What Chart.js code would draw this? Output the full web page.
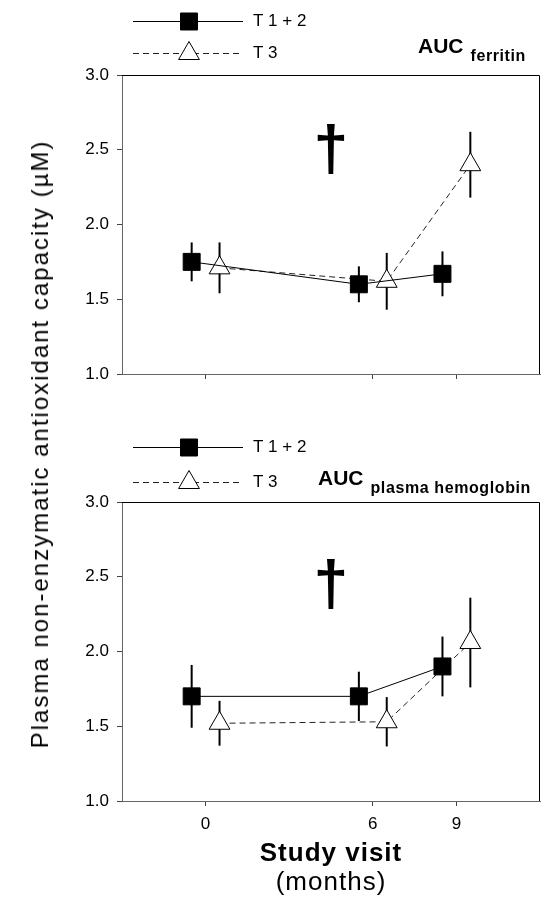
<!DOCTYPE html>
<html lang="en">
<head>
  <meta charset="UTF-8">
  <title>Plasma non-enzymatic antioxidant capacity</title>
  <script src="https://cdn.jsdelivr.net/npm/chart.js"></script>
  <style>
    * { box-sizing: border-box; }
    body {
      margin: 0;
      width: 544px;
      height: 902px;
      position: relative;
      overflow: hidden;
      background: #fff;
      font-family: 'Liberation Sans', Arial, sans-serif;
      color: #000;
    }
    .panel { position: absolute; left: 0; width: 544px; }
    #top { top: 0; height: 420px; }
    #bottom { top: 420px; height: 482px; }
    #ytitle {
      position: absolute;
      left: 40px;
      top: 444px;
      transform: translate(-50%, -50%) rotate(-90deg);
      white-space: nowrap;
      font-size: 24px;
      letter-spacing: 2px;
    }
    #xtitle {
      position: absolute;
      left: 331px;
      top: 838px;
      transform: translateX(-50%);
      text-align: center;
      white-space: nowrap;
    }
    #xtitle .main { font-weight: bold; font-size: 26px; line-height: 28px; letter-spacing: 1px; }
    #xtitle .unit { font-size: 26px; line-height: 30px; letter-spacing: 1px; }
  </style>
</head>
<body>
  <div class="panel" id="top"><canvas id="chartFerritin"></canvas></div>
  <div class="panel" id="bottom"><canvas id="chartHemo"></canvas></div>
  <div id="ytitle">Plasma non-enzymatic antioxidant capacity (µM)</div>
  <div id="xtitle"><div class="main">Study visit</div><div class="unit">(months)</div></div>
<script>
// study visits (months) and where each group is drawn on the x axis
const visits = [0, 6, 9];
const visitLabels = ['0', '6', '9'];
const t12X = [-0.5, 5.5, 8.5];
const t3X = [0.5, 6.5, 9.5];
const yTicks = [1.0, 1.5, 2.0, 2.5, 3.0];

// AUC ferritin panel
const ferritinT12 = [1.75, 1.60, 1.67];
const ferritinT12Err = [0.13, 0.12, 0.15];
const ferritinT3 = [1.71, 1.62, 2.40];
const ferritinT3Err = [0.17, 0.19, 0.22];

// AUC plasma hemoglobin panel
const hemoT12 = [1.70, 1.70, 1.90];
const hemoT12Err = [0.21, 0.165, 0.20];
const hemoT3 = [1.52, 1.53, 2.06];
const hemoT3Err = [0.15, 0.165, 0.30];

const FONT = "'Liberation Sans', Arial, sans-serif";

function drawMarker(ctx, style, x, y, r, fill) {
  ctx.save();
  ctx.lineWidth = 1;
  ctx.strokeStyle = '#000';
  ctx.fillStyle = fill;
  ctx.beginPath();
  if (style === 'rect') {
    const h = Math.SQRT1_2 * r;
    ctx.rect(x - h, y - h, 2 * h, 2 * h);
  } else {
    let a = 0;
    for (let k = 0; k < 3; k++) {
      const px = x + Math.sin(a) * r, py = y - Math.cos(a) * r;
      if (k === 0) ctx.moveTo(px, py); else ctx.lineTo(px, py);
      a += 2 * Math.PI / 3;
    }
    ctx.closePath();
  }
  ctx.fill();
  ctx.stroke();
  ctx.restore();
}

// error bars, drawn under the markers
const errorBars = {
  id: 'errorBars',
  beforeDatasetsDraw(chart) {
    const ctx = chart.ctx;
    const ys = chart.scales.y;
    ctx.save();
    ctx.strokeStyle = '#000';
    ctx.lineWidth = 2;
    chart.data.datasets.forEach((ds, i) => {
      const meta = chart.getDatasetMeta(i);
      meta.data.forEach((pt, j) => {
        const v = ds.data[j].y, e = ds.err[j];
        ctx.beginPath();
        ctx.moveTo(pt.x, ys.getPixelForValue(v + e));
        ctx.lineTo(pt.x, ys.getPixelForValue(v - e));
        ctx.stroke();
      });
    });
    ctx.restore();
  }
};

// frame, legend, panel title and dagger
const decor = {
  id: 'decor',
  afterDraw(chart, args, o) {
    const ctx = chart.ctx;
    const a = chart.chartArea;
    ctx.save();
    ctx.strokeStyle = '#000';
    ctx.lineWidth = 1;
    ctx.beginPath();
    ctx.moveTo(a.left, a.top + 0.5);
    ctx.lineTo(a.right - 0.5, a.top + 0.5);
    ctx.lineTo(a.right - 0.5, a.bottom);
    ctx.stroke();

    // legend
    chart.data.datasets.forEach((ds, i) => {
      const y = o.legendY[i] + 0.5;
      ctx.save();
      ctx.strokeStyle = ds.borderColor;
      ctx.lineWidth = 1;
      ctx.setLineDash(ds.borderDash || []);
      ctx.beginPath();
      ctx.moveTo(133, y);
      ctx.lineTo(243, y);
      ctx.stroke();
      ctx.restore();
      drawMarker(ctx, ds.pointStyle, 189, y, ds.pointRadius, ds.pointBackgroundColor);
      ctx.fillStyle = '#000';
      ctx.font = '17px ' + FONT;
      ctx.textBaseline = 'middle';
      ctx.textAlign = 'left';
      ctx.fillText(ds.label, 253, y);
    });

    // panel title
    ctx.fillStyle = '#000';
    ctx.textBaseline = 'alphabetic';
    ctx.font = 'bold 21px ' + FONT;
    ctx.fillText('AUC', o.titleX, o.titleY);
    const w = ctx.measureText('AUC').width;
    ctx.font = 'bold 16px ' + FONT;
    ctx.letterSpacing = '0.6px';
    ctx.fillText(o.sub, o.titleX + w + 7, o.titleY + 8);
    ctx.letterSpacing = '0px';

    // dagger
    ctx.font = 'bold 100px ' + FONT;
    const m = ctx.measureText('\u2020');
    const scale = o.daggerH / (m.actualBoundingBoxAscent + m.actualBoundingBoxDescent);
    const size = 100 * scale;
    ctx.font = 'bold ' + size + 'px ' + FONT;
    ctx.textAlign = 'center';
    ctx.fillText('\u2020', (a.left + a.right) / 2, o.daggerTop + m.actualBoundingBoxAscent * scale);
    ctx.restore();
  }
};

function makePanel(id, t12, t12Err, t3, t3Err, cfg) {
  return new Chart(document.getElementById(id), {
    type: 'line',
    data: {
      datasets: [
        {
          label: 'T 1 + 2',
          data: t12X.map((x, i) => ({ x: x, y: t12[i] })),
          err: t12Err,
          borderColor: '#000',
          borderWidth: 1,
          pointStyle: 'rect',
          pointRadius: 12,
          pointBackgroundColor: '#000',
          pointBorderColor: '#000',
          pointBorderWidth: 1,
          tension: 0
        },
        {
          label: 'T 3',
          data: t3X.map((x, i) => ({ x: x, y: t3[i] })),
          err: t3Err,
          borderColor: '#222',
          borderWidth: 1,
          borderDash: [6, 4],
          pointStyle: 'triangle',
          pointRadius: 12,
          pointBackgroundColor: '#fff',
          pointBorderColor: '#000',
          pointBorderWidth: 1,
          tension: 0
        }
      ]
    },
    options: {
      responsive: true,
      maintainAspectRatio: false,
      animation: false,
      layout: { autoPadding: false, padding: { top: cfg.padTop, right: 4, left: 0, bottom: 0 } },
      plugins: {
        legend: { display: false },
        tooltip: { enabled: false },
        decor: cfg.decor
      },
      scales: {
        x: {
          type: 'linear',
          min: -3,
          max: 12,
          afterBuildTicks: s => { s.ticks = visits.map(v => ({ value: v })); },
          afterFit: s => { s.height = cfg.xHeight; },
          ticks: {
            display: cfg.showX,
            color: '#000',
            font: { family: FONT, size: 17 },
            padding: 8,
            callback: v => visitLabels[visits.indexOf(v)]
          },
          grid: { drawOnChartArea: false, drawTicks: true, tickLength: 5, color: '#444' },
          border: { color: '#666', width: 1 }
        },
        y: {
          min: 1,
          max: 3,
          afterBuildTicks: s => { s.ticks = yTicks.map(v => ({ value: v })); },
          afterFit: s => { s.width = 122; },
          ticks: {
            color: '#000',
            font: { family: FONT, size: 17 },
            padding: 8,
            callback: v => v.toFixed(1)
          },
          grid: { drawOnChartArea: false, drawTicks: true, tickLength: 5, color: '#444' },
          border: { color: '#666', width: 1 }
        }
      }
    },
    plugins: [errorBars, decor]
  });
}

makePanel('chartFerritin', ferritinT12, ferritinT12Err, ferritinT3, ferritinT3Err, {
  padTop: 75, xHeight: 46, showX: false,
  decor: { legendY: [21, 53], titleX: 418, titleY: 53, sub: 'ferritin', daggerTop: 124, daggerH: 50 }
});

makePanel('chartHemo', hemoT12, hemoT12Err, hemoT3, hemoT3Err, {
  padTop: 82, xHeight: 101, showX: true,
  decor: { legendY: [27, 62], titleX: 318, titleY: 65, sub: 'plasma hemoglobin', daggerTop: 139, daggerH: 50 }
});
</script>
</body>
</html>
